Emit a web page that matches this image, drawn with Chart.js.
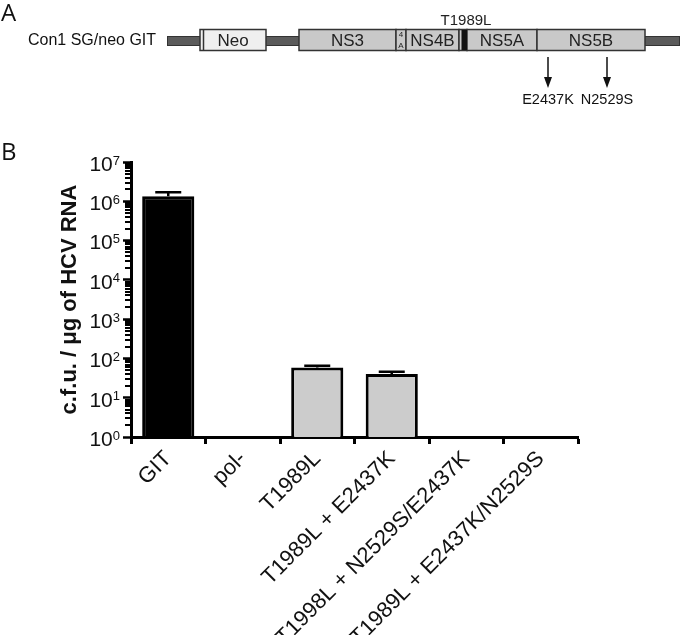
<!DOCTYPE html>
<html>
<head>
<meta charset="utf-8">
<script src="https://cdn.jsdelivr.net/npm/chart.js@4/dist/chart.umd.min.js"></script>
<style>
  html, body { margin: 0; padding: 0; background: #fff; }
  #caixa { width: 680px; height: 635px; }
</style>
</head>
<body>
<div id="caixa"><canvas id="grafico"></canvas></div>
<script>
// Dados do painel B
const construcoes = ['GIT', 'pol-', 'T1989L', 'T1989L + E2437K', 'T1998L + N2529S/E2437K', 'T1989L + E2437K/N2529S'];
const cfu = [1.35e6, null, 59, 40, null, null];
const erroSuperior = [1.7e6, null, 65, 46, null, null];
const coresBarras = ['#000000', '#000000', '#cccccc', '#cccccc', '#cccccc', '#cccccc'];
const expoentes = [0, 1, 2, 3, 4, 5, 6, 7];

// marcas do eixo log: 1..9 em cada década
const marcasLog = [];
expoentes.forEach((e) => {
  if (e === 7) { marcasLog.push({ value: 1e7, major: true }); return; }
  for (let k = 1; k <= 9; k++) marcasLog.push({ value: k * 10 ** e, major: k === 1 });
});

const fonte = "'Liberation Sans', Arial, sans-serif";

// Painel A: esquema do replicon (só desenho, não é dado)
const regioes = [
  { nome: 'NS3', de: 299, ate: 396 },
  { nome: '', de: 396, ate: 406 },
  { nome: 'NS4B', de: 406, ate: 459 },
  { nome: '', de: 459, ate: 467 },
  { nome: 'NS5A', de: 467, ate: 537 },
  { nome: 'NS5B', de: 537, ate: 645 }
];
const mutacoesNS5B = [{ nome: 'E2437K', x: 548 }, { nome: 'N2529S', x: 607 }];

const esquema = {
  id: 'esquema',
  afterDraw(chart) {
    const ctx = chart.ctx;
    ctx.save();
    ctx.fillStyle = '#111';
    ctx.textBaseline = 'middle';
    ctx.font = "24px 'Open Sans', sans-serif";
    ctx.textAlign = 'left';
    ctx.fillText('A', 1, 14);
    ctx.fillText('B', 1, 153);

    ctx.font = '16px ' + fonte;
    ctx.fillText('Con1 SG/neo GIT', 28, 41);

    // linha escura
    ctx.fillStyle = '#5b5b5b';
    ctx.strokeStyle = '#333';
    ctx.lineWidth = 1;
    ctx.fillRect(167, 36, 512, 10);
    ctx.strokeRect(167.5, 36.5, 512, 9);

    // Neo
    ctx.fillStyle = '#efefef';
    ctx.fillRect(200, 29.5, 66, 21);
    ctx.lineWidth = 1.5;
    ctx.strokeRect(200, 29.5, 66, 21);
    ctx.beginPath(); ctx.moveTo(203.5, 29.5); ctx.lineTo(203.5, 50.5); ctx.stroke();

    // poliproteína
    regioes.forEach((r) => {
      ctx.fillStyle = '#c9c9c9';
      ctx.fillRect(r.de, 29.5, r.ate - r.de, 21);
      ctx.strokeRect(r.de, 29.5, r.ate - r.de, 21);
    });
    ctx.fillStyle = '#111';
    ctx.fillRect(461.5, 30, 5.5, 20);

    ctx.fillStyle = '#222';
    ctx.textAlign = 'center';
    ctx.font = '17px ' + fonte;
    ctx.fillText('Neo', 233, 41);
    regioes.forEach((r) => { if (r.nome) ctx.fillText(r.nome, (r.de + r.ate) / 2, 41); });
    ctx.font = '8px ' + fonte;
    ctx.fillText('4', 401, 35);
    ctx.fillText('A', 401, 45.5);

    ctx.font = '15px ' + fonte;
    ctx.fillText('T1989L', 466, 21);

    ctx.strokeStyle = '#111';
    ctx.fillStyle = '#111';
    ctx.lineWidth = 1.5;
    mutacoesNS5B.forEach((m) => {
      ctx.beginPath(); ctx.moveTo(m.x, 57); ctx.lineTo(m.x, 79); ctx.stroke();
      ctx.beginPath(); ctx.moveTo(m.x - 4, 77); ctx.lineTo(m.x + 4, 77); ctx.lineTo(m.x, 88); ctx.closePath(); ctx.fill();
      ctx.font = '14.5px ' + fonte;
      ctx.fillText(m.nome, m.x, 100);
    });
    ctx.restore();
  }
};

// Barras de erro (SD superior)
const barrasDeErro = {
  id: 'barrasDeErro',
  afterDatasetsDraw(chart) {
    const { ctx, scales: { x, y } } = chart;
    ctx.save();
    ctx.strokeStyle = '#000';
    ctx.lineWidth = 2.5;
    erroSuperior.forEach((topo, i) => {
      if (topo == null) return;
      const px = x.getPixelForValue(i);
      const yBarra = y.getPixelForValue(cfu[i]);
      const yTopo = y.getPixelForValue(topo);
      ctx.beginPath();
      ctx.moveTo(px, yBarra);
      ctx.lineTo(px, yTopo);
      ctx.moveTo(px - 13, yTopo);
      ctx.lineTo(px + 13, yTopo);
      ctx.stroke();
    });
    ctx.restore();
  }
};

// rótulos 10^n com expoente sobrescrito + marcas menores
const eixoLog = {
  id: 'eixoLog',
  afterDraw(chart) {
    const { ctx, scales: { y } } = chart;
    const borda = y.right - 1;
    ctx.save();
    ctx.strokeStyle = '#000';
    ctx.lineWidth = 2;
    marcasLog.forEach((m) => {
      if (m.major) return;
      const py = Math.round(y.getPixelForValue(m.value));
      ctx.beginPath(); ctx.moveTo(borda, py); ctx.lineTo(borda - 5, py); ctx.stroke();
    });
    ctx.fillStyle = '#111';
    ctx.textBaseline = 'middle';
    ctx.textAlign = 'left';
    const direita = y.right - 11;
    expoentes.forEach((e) => {
      const py = y.getPixelForValue(10 ** e);
      ctx.font = '21px ' + fonte;
      const wBase = ctx.measureText('10').width;
      ctx.font = '13px ' + fonte;
      const wExp = ctx.measureText(String(e)).width;
      const x0 = direita - wBase - wExp;
      ctx.font = '21px ' + fonte;
      ctx.fillText('10', x0, py + 3);
      ctx.font = '13px ' + fonte;
      ctx.fillText(String(e), x0 + wBase, py - 1);
    });
    ctx.restore();
  }
};

new Chart(document.getElementById('grafico'), {
  type: 'bar',
  data: {
    labels: construcoes,
    datasets: [{
      data: cfu,
      backgroundColor: coresBarras,
      borderColor: '#000',
      borderWidth: 3,
      barPercentage: 0.7,
      categoryPercentage: 1
    }]
  },
  options: {
    responsive: true,
    maintainAspectRatio: false,
    animation: false,
    layout: { padding: { top: 162, right: 102, left: 0, bottom: 0 } },
    plugins: { legend: { display: false }, tooltip: { enabled: false } },
    scales: {
      x: {
        afterFit: (s) => { s.height = 198; },
        grid: { drawOnChartArea: false, tickLength: 7, tickWidth: 3, tickColor: '#000' },
        border: { color: '#000', width: 3 },
        ticks: {
          autoSkip: false, minRotation: 45, maxRotation: 45, padding: 2,
          color: '#111', font: { family: fonte, size: 22 }
        }
      },
      y: {
        type: 'logarithmic',
        min: 1,
        max: 1e7,
        afterBuildTicks: (s) => { s.ticks = marcasLog.filter((m) => m.major).map((m) => ({ ...m })); },
        afterFit: (s) => { s.width = 131; },
        grid: { drawOnChartArea: false, tickLength: 8, tickWidth: 2.5, tickColor: '#000' },
        border: { color: '#000', width: 3 },
        ticks: { autoSkip: false, callback: () => '' },
        title: {
          display: true,
          text: 'c.f.u. / μg of HCV RNA',
          color: '#111',
          font: { family: fonte, size: 22, weight: 'bold' },
          padding: { top: 57, bottom: 0 }
        }
      }
    }
  },
  plugins: [esquema, barrasDeErro, eixoLog]
});
</script>
</body>
</html>
